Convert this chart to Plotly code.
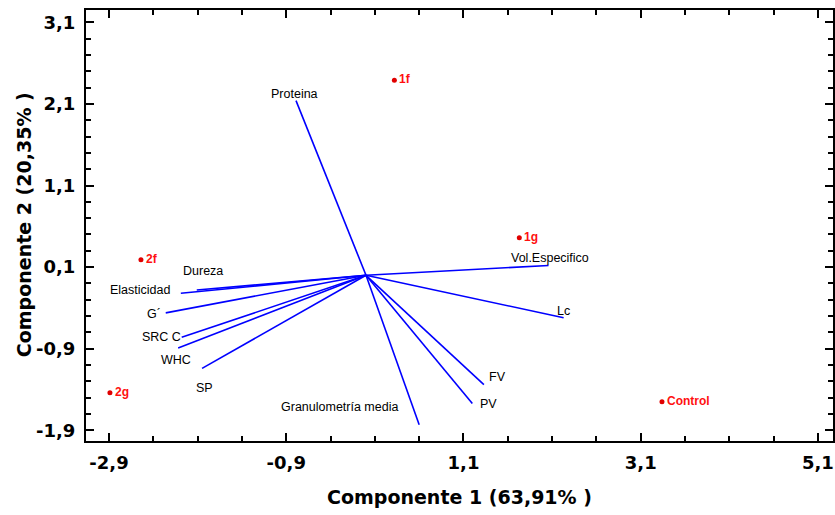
import plotly.graph_objects as go

# ---- data ----
variables = ["Proteina", "Vol.Especifico", "Lc", "FV", "PV", "Granulometría media",
             "Dureza", "Elasticidad", "G´", "SRC C", "WHC", "SP"]
var_pc1 = [-0.79, 2.06, 2.23, 1.33, 1.20, 0.60, -1.91, -2.09, -2.26, -2.08, -2.12, -1.85]
var_pc2 = [2.14, 0.12, -0.52, -1.34, -1.57, -1.83, -0.18, -0.22, -0.46, -0.76, -0.89, -1.14]

samples = ["1f", "2f", "1g", "2g", "Control"]
samp_pc1 = [0.32, -2.54, 1.73, -2.89, 3.34]
samp_pc2 = [2.39, 0.19, 0.46, -1.44, -1.55]

x_tickvals = [-2.9, -0.9, 1.1, 3.1, 5.1]
x_ticktext = ["-2,9", "-0,9", "1,1", "3,1", "5,1"]
y_tickvals = [-1.9, -0.9, 0.1, 1.1, 2.1, 3.1]
y_ticktext = ["-1,9", "-0,9", "0,1", "1,1", "2,1", "3,1"]

x_title = "Componente 1 (63,91% )"
y_title = "Componente 2 (20,35% )"

# ---- label offsets (pixels, style) ----
label_shift = {
    "Proteina": (-2, 7), "Vol.Especifico": (1, 8), "Lc": (0, 7), "FV": (14, 8),
    "PV": (16, -1), "Granulometría media": (-80, 18), "Dureza": (6, 19),
    "Elasticidad": (-41, 3), "G´": (-12, -1), "SRC C": (-20, 0),
    "WHC": (-2, -12), "SP": (2, -20),
}

FONT = "Liberation Sans, Arial, sans-serif"
BOLD = "DejaVu Sans, sans-serif"

lx, ly = [], []
for a, b in zip(var_pc1, var_pc2):
    lx += [0, a, None]
    ly += [0, b, None]

fig = go.Figure()
fig.add_trace(go.Scatter(x=lx, y=ly, mode="lines",
                         line=dict(color="#0000ff", width=1.6),
                         hoverinfo="skip", showlegend=False))
fig.add_trace(go.Scatter(x=samp_pc1, y=samp_pc2, mode="markers",
                         marker=dict(color="#e00000", size=5),
                         text=samples, showlegend=False))

annotations = []
for name, a, b in zip(variables, var_pc1, var_pc2):
    dx, dy = label_shift[name]
    annotations.append(dict(x=a, y=b, text=name, showarrow=False,
                            xshift=dx, yshift=dy,
                            font=dict(family=FONT, size=12.5, color="#000000")))
for name, a, b in zip(samples, samp_pc1, samp_pc2):
    annotations.append(dict(x=a, y=b, text="<b>" + name + "</b>", showarrow=False,
                            xanchor="left", xshift=3, yshift=1,
                            font=dict(family=FONT, size=12, color="#ff1010")))
annotations.append(dict(xref="paper", yref="paper", x=0.5, y=-0.13,
                        xanchor="center", yanchor="middle", showarrow=False,
                        text="<b>" + x_title + "</b>",
                        font=dict(family=BOLD, size=19, color="black")))
annotations.append(dict(xref="paper", yref="paper", x=-0.083, y=0.503,
                        xanchor="center", yanchor="middle", showarrow=False,
                        textangle=-90, text="<b>" + y_title + "</b>",
                        font=dict(family=BOLD, size=19, color="black")))

axis_common = dict(
    showline=True, linecolor="black", linewidth=2, mirror="ticks",
    ticks="inside", ticklen=8, tickwidth=2, tickcolor="black",
    showgrid=False, zeroline=False, automargin=False,
    tickfont=dict(family=BOLD, size=18, color="black", weight="bold"),
)

fig.update_layout(
    width=835, height=515,
    margin=dict(l=86, r=2, t=10, b=74),
    paper_bgcolor="white", plot_bgcolor="white",
    annotations=annotations,
    xaxis=dict(range=[-3.16, 5.27], tickmode="array", tickvals=x_tickvals,
               ticktext=x_ticktext, ticklabelstandoff=4,
               minor=dict(tickmode="linear", tick0=-2.9, dtick=0.5, ticks="inside",
                          ticklen=5, tickwidth=1.5, tickcolor="black"),
               **axis_common),
    yaxis=dict(range=[-2.03, 3.25], tickmode="array", tickvals=y_tickvals,
               ticktext=y_ticktext, ticklabelstandoff=5,
               minor=dict(tickmode="linear", tick0=0.1, dtick=0.2, ticks="inside",
                          ticklen=5, tickwidth=1.5, tickcolor="black"),
               **axis_common),
)

fig.write_html("out.html", config={"displayModeBar": False},
               post_script="document.body.style.margin='0px';"
                           "document.body.style.overflow='hidden';")
